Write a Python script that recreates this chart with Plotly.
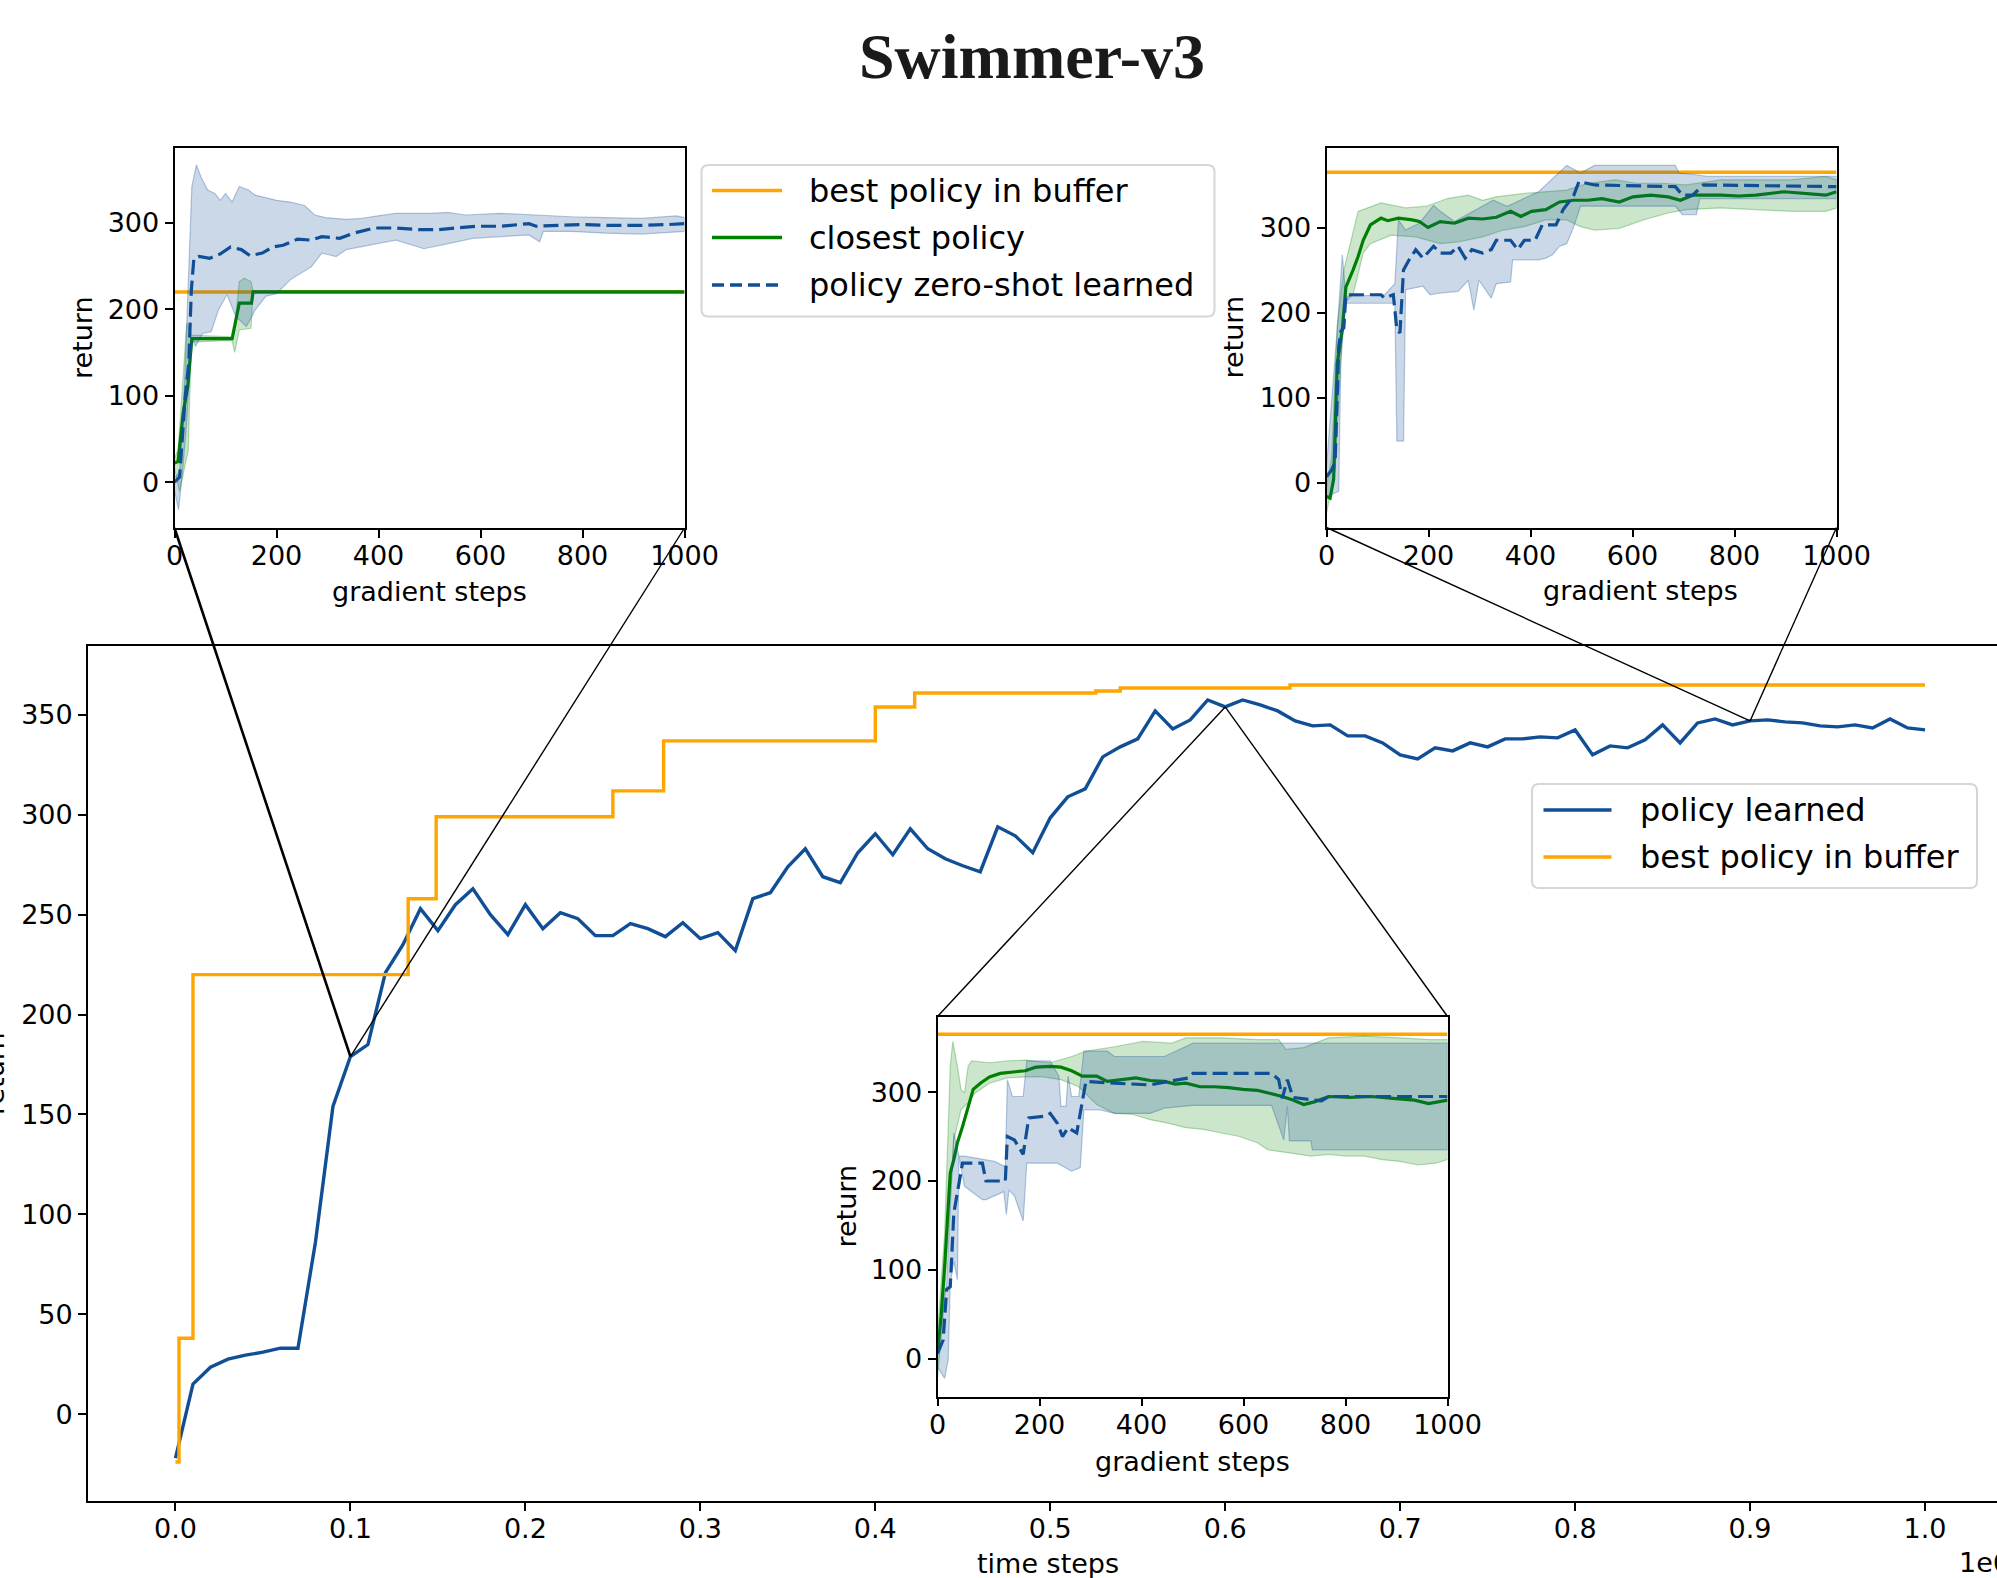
import plotly.graph_objects as go

W, H = 1997, 1578
FONT = "DejaVu Sans"
BLUE = "rgb(16,78,150)"
BLUE_FILL = "rgba(16,78,150,0.22)"
BLUE_EDGE = "rgba(16,78,150,0.30)"
GREEN = "rgb(0,128,0)"
GREEN_FILL = "rgba(0,128,0,0.20)"
GREEN_EDGE = "rgba(0,128,0,0.28)"
ORANGE = "rgb(255,165,0)"

# ---------------- main run (time steps in units of 1e6) ----------------
TIME_STEPS = [0.00, 0.01, 0.02, 0.03, 0.04, 0.05, 0.06, 0.07, 0.08, 0.09,
              0.10, 0.11, 0.12, 0.13, 0.14, 0.15, 0.16, 0.17, 0.18, 0.19,
              0.20, 0.21, 0.22, 0.23, 0.24, 0.25, 0.26, 0.27, 0.28, 0.29,
              0.30, 0.31, 0.32, 0.33, 0.34, 0.35, 0.36, 0.37, 0.38, 0.39,
              0.40, 0.41, 0.42, 0.43, 0.44, 0.45, 0.46, 0.47, 0.48, 0.49,
              0.50, 0.51, 0.52, 0.53, 0.54, 0.55, 0.56, 0.57, 0.58, 0.59,
              0.60, 0.61, 0.62, 0.63, 0.64, 0.65, 0.66, 0.67, 0.68, 0.69,
              0.70, 0.71, 0.72, 0.73, 0.74, 0.75, 0.76, 0.77, 0.78, 0.79,
              0.80, 0.81, 0.82, 0.83, 0.84, 0.85, 0.86, 0.87, 0.88, 0.89,
              0.90, 0.91, 0.92, 0.93, 0.94, 0.95, 0.96, 0.97, 0.98, 0.99,
              1.00]
POLICY_LEARNED = [-22, 15, 23.5, 27.5, 29.5, 31, 33, 33, 86, 154,
                  179, 185, 221, 235, 253, 242, 255, 263, 250, 240,
                  255, 243, 251, 248, 239.5, 239.5, 245.5, 243, 239, 246,
                  238, 241, 232, 258, 261, 274, 283, 269, 266, 281,
                  290.5, 280, 293, 283, 278, 274.5, 271.5, 294, 289.5, 281,
                  298.5, 309, 313, 329, 334, 338, 352, 343, 347.5, 357.5,
                  354, 357.5, 355, 352, 347, 344.5, 345, 339.5, 339.5, 336,
                  330, 328, 333.5, 332, 336, 334, 338, 338, 339, 338.5,
                  342.5, 330, 334.5, 333.5, 337.5, 345, 336, 346, 348, 345,
                  347, 347.5, 346.5, 346, 344.5, 344, 345, 343.5, 348, 343.5,
                  342.5]
BEST_BUFFER_T = [0.0, 0.002, 0.010, 0.133, 0.149, 0.250, 0.279, 0.400, 0.4225, 0.526, 0.540, 0.637, 1.0]
BEST_BUFFER_V = [-24, 38, 220, 258, 299, 312, 337, 354, 361, 362, 363.5, 365, 365]
ZOOM_INDEX = {"left": 10, "mid": 60, "right": 90}

# ---------------- inset at 0.1e6 ----------------
TL_BEST = 220
TL_GREEN_X = [0, 7, 17, 26, 34, 113, 127, 151, 154, 1000]
TL_GREEN_Y = [22, 24, 80, 111, 166, 166, 207, 207, 220, 220]
TL_GREEN_UP_X = [0, 7, 24, 33, 113, 120, 127, 137, 150, 154, 1000]
TL_GREEN_UP_Y = [28, 37, 184, 170, 168, 190, 232, 236, 232, 221, 221]
TL_GREEN_LO_X = [0, 10, 27, 33, 113, 118, 127, 150, 154, 1000]
TL_GREEN_LO_Y = [16, -11, 37, 162, 164, 150, 176, 178, 219, 219]
TL_BLUE_X = [0, 10, 21, 28, 33, 38, 48, 69, 90, 110, 131, 148, 172, 193, 213, 241, 268, 289, 324, 351,
             392, 434, 482, 516, 551, 592, 640, 695, 709, 743, 798, 846, 915, 970, 1000]
TL_BLUE_Y = [0, 6, 99, 138, 222, 259, 261, 259, 264, 272, 269, 262, 265, 272, 274, 281, 280, 284, 282, 288,
             294, 294, 292, 292, 294, 296, 296, 299, 296, 297, 298, 297, 297, 298, 299]
TL_BLUE_UP_X = [0, 10, 20, 28, 34, 43, 52, 65, 79, 90, 100, 113, 127, 145, 158, 172, 200, 227, 255, 275,
                296, 337, 365, 399, 434, 502, 537, 571, 640, 709, 778, 846, 915, 984, 1000]
TL_BLUE_UP_Y = [5, 12, 120, 260, 342, 367, 353, 338, 334, 326, 334, 324, 342, 338, 332, 330, 326, 324, 320, 309,
                306, 304, 305, 308, 311, 311, 312, 309, 311, 309, 307, 306, 305, 308, 306]
TL_BLUE_LO_X = [0, 8, 17, 24, 30, 36, 41, 55, 72, 86, 103, 120, 141, 158, 179, 200, 227, 248, 268, 289,
                317, 337, 378, 434, 489, 537, 585, 640, 695, 716, 723, 778, 846, 915, 1000]
TL_BLUE_LO_Y = [-10, -32, 20, 70, 130, 165, 157, 172, 174, 199, 217, 192, 180, 199, 215, 218, 234, 242, 249, 265,
                261, 269, 274, 280, 270, 276, 282, 284, 286, 278, 290, 290, 288, 287, 290]

# ---------------- inset at 0.9e6 ----------------
TR_BEST = 365
TR_GREEN_X = [0, 7, 14, 21, 31, 38, 52, 62, 72, 86, 107, 120, 141, 168, 182, 199, 223, 251, 278, 306,
              333, 361, 381, 402, 430, 457, 485, 512, 540, 574, 601, 636, 670, 694, 718, 773, 808, 842, 897, 938,
              979, 1000]
TR_GREEN_Y = [-16, -18, 4, 140, 180, 230, 250, 266, 285, 303, 311, 308, 311, 309, 307, 300, 307, 305, 311, 310,
              312, 319, 313, 319, 321, 330, 332, 332, 334, 330, 336, 338, 336, 332, 338, 338, 337, 338, 342, 340,
              338, 342]
TR_GREEN_UP_X = [0, 10, 21, 34, 62, 107, 155, 196, 237, 278, 306, 333, 388, 430, 471, 512, 567, 608, 656, 705,
                 773, 842, 911, 979, 1000]
TR_GREEN_UP_Y = [-5, 30, 184, 250, 319, 329, 323, 325, 334, 338, 332, 336, 340, 342, 344, 352, 356, 352, 352, 350,
                 356, 356, 356, 360, 356]
TR_GREEN_LO_X = [0, 17, 24, 34, 52, 72, 86, 127, 175, 223, 258, 306, 347, 388, 430, 471, 498, 526, 574, 622,
                 670, 705, 773, 842, 911, 979, 1000]
TR_GREEN_LO_Y = [-36, 15, 101, 211, 221, 270, 281, 291, 289, 281, 283, 289, 297, 301, 309, 309, 301, 297, 299, 309,
                 317, 321, 323, 321, 319, 319, 323]
TR_BLUE_X = [0, 10, 17, 24, 28, 34, 38, 107, 114, 131, 138, 144, 151, 162, 175, 189, 210, 223, 244, 258,
             272, 285, 306, 323, 333, 361, 375, 388, 409, 423, 450, 464, 485, 495, 526, 684, 698, 718, 739, 1000]
TR_BLUE_Y = [7, 15, 25, 160, 178, 182, 221, 221, 217, 221, 180, 176, 250, 262, 274, 264, 278, 270, 270, 278,
             264, 274, 270, 274, 285, 285, 274, 285, 285, 303, 303, 321, 338, 354, 350, 348, 338, 338, 350, 348]
TR_BLUE_UP_X = [0, 21, 31, 38, 114, 134, 141, 155, 182, 210, 223, 251, 327, 354, 416, 454, 471, 498, 526, 684,
                691, 725, 746, 1000]
TR_BLUE_UP_Y = [19, 180, 268, 219, 221, 234, 309, 297, 305, 326, 319, 307, 332, 325, 342, 364, 373, 364, 373, 373,
                364, 362, 360, 360]
TR_BLUE_LO_X = [0, 24, 28, 34, 38, 114, 134, 138, 151, 155, 189, 203, 223, 258, 278, 289, 299, 323, 333, 361,
                365, 416, 430, 443, 457, 471, 485, 498, 533, 684, 698, 725, 732, 1000]
TR_BLUE_LO_Y = [-16, -10, 141, 188, 211, 211, 211, 49, 49, 227, 231, 221, 223, 225, 238, 203, 238, 217, 234, 236,
                262, 262, 264, 268, 278, 281, 301, 325, 325, 325, 315, 315, 334, 334]

# ---------------- inset at 0.6e6 ----------------
B_BEST = 365
B_GREEN_X = [0, 7, 14, 21, 25, 32, 39, 49, 60, 70, 84, 102, 123, 151, 172, 193, 221, 242, 263, 284,
             312, 333, 361, 389, 417, 445, 466, 487, 515, 543, 571, 599, 627, 655, 676, 697, 718, 739, 767, 809,
             851, 893, 935, 963, 1000]
B_GREEN_Y = [6, 48, 104, 179, 209, 224, 243, 261, 284, 303, 310, 317, 321, 323, 324, 328, 329, 328, 324, 318,
             318, 312, 314, 316, 313, 312, 309, 310, 306, 306, 305, 303, 302, 298, 295, 291, 286, 289, 295, 294,
             295, 293, 291, 287, 291]
B_GREEN_UP_X = [0, 14, 25, 30, 39, 46, 53, 60, 67, 102, 137, 172, 221, 263, 291, 347, 403, 459, 487, 557,
                627, 669, 683, 718, 767, 837, 907, 963, 1000]
B_GREEN_UP_Y = [29, 141, 329, 357, 329, 303, 299, 329, 335, 333, 335, 336, 333, 340, 346, 351, 357, 355, 361, 361,
                359, 359, 348, 350, 361, 363, 361, 359, 359]
B_GREEN_LO_X = [0, 10, 21, 32, 46, 60, 74, 102, 137, 172, 207, 242, 277, 312, 347, 382, 417, 452, 487, 522,
                557, 592, 627, 648, 676, 697, 732, 767, 802, 837, 872, 907, 942, 977, 1000]
B_GREEN_LO_Y = [-20, 40, 141, 246, 280, 288, 299, 310, 316, 317, 317, 314, 306, 286, 276, 275, 269, 265, 260, 258,
                254, 250, 243, 235, 233, 231, 228, 230, 228, 228, 224, 222, 218, 220, 224]
B_BLUE_X = [0, 11, 18, 25, 32, 42, 49, 88, 95, 133, 137, 151, 168, 179, 214, 221, 235, 245, 256, 273,
            291, 347, 417, 452, 494, 501, 655, 669, 676, 686, 697, 753, 767, 1000]
B_BLUE_Y = [6, 21, 78, 81, 164, 198, 220, 220, 200, 200, 250, 246, 230, 271, 273, 276, 265, 250, 260, 254,
            312, 310, 308, 312, 316, 321, 321, 314, 293, 314, 294, 290, 295, 295]
B_BLUE_UP_X = [0, 18, 32, 42, 53, 88, 112, 133, 137, 147, 168, 175, 221, 238, 242, 252, 256, 263, 277, 287,
               333, 347, 445, 501, 1000]
B_BLUE_UP_Y = [14, 85, 254, 228, 228, 224, 222, 216, 314, 295, 295, 335, 335, 318, 284, 284, 318, 295, 295, 346,
               346, 340, 340, 355, 355]
B_BLUE_LO_X = [0, 14, 21, 25, 32, 39, 42, 53, 88, 95, 109, 130, 135, 140, 151, 168, 175, 207, 235, 263,
               280, 287, 319, 347, 417, 445, 501, 655, 679, 686, 690, 732, 735, 1000]
B_BLUE_LO_Y = [-9, -22, -1, 85, 110, 89, 228, 194, 179, 179, 183, 188, 162, 190, 183, 155, 220, 220, 220, 211,
               215, 280, 280, 276, 276, 282, 285, 285, 246, 284, 245, 245, 235, 235]

GRAD_TICKS = [0, 200, 400, 600, 800, 1000]
RETURN_TICKS_INSET = [0, 100, 200, 300]
RETURN_TICKS_MAIN = [0, 50, 100, 150, 200, 250, 300, 350]
TIME_TICKS = [0.0, 0.1, 0.2, 0.3, 0.4, 0.5, 0.6, 0.7, 0.8, 0.9, 1.0]


# ---------------- layout geometry (pixels) ----------------
def fx(px):
    return px / W


def fy(py):
    return 1 - py / H


MAIN_BOX = (88, 646, 1997, 1501)          # left, top, right, bottom (right edge clipped by page)
MAIN_FULL_RIGHT = 2012.5                  # where x = 1.05 would fall
X_LO, X_HI_FULL = -0.05, 1.05
X_HI = X_LO + (X_HI_FULL - X_LO) * (MAIN_BOX[2] - MAIN_BOX[0]) / (MAIN_FULL_RIGHT - MAIN_BOX[0])
Y_RANGE_MAIN = [-43.5, 384.5]

# box, y range, axis suffix, x-label centre, y-label centre (pixels)
INSETS = {
    "left": dict(box=(174.5, 148, 684.5, 528), yr=[-53, 386.5], ax="2", xlab=(429.5, 592), ylab=(83, 338)),
    "right": dict(box=(1326.5, 147.5, 1836.5, 527.5), yr=[-52.5, 394], ax="3", xlab=(1640, 591), ylab=(1233, 337.5)),
    "mid": dict(box=(937.5, 1016.5, 1447.5, 1396.5), yr=[-42.4, 385], ax="4", xlab=(1192.5, 1461), ylab=(846, 1206.5)),
}

TICK_FONT = dict(family=FONT, size=27, color="black")
LABEL_FONT = dict(family=FONT, size=27, color="black")
LEG_FONT = dict(family=FONT, size=32, color="black")

fig = go.Figure()

# main curves
fig.add_trace(go.Scatter(x=TIME_STEPS, y=POLICY_LEARNED, mode="lines",
                         line=dict(color=BLUE, width=3.4), name="policy learned",
                         xaxis="x", yaxis="y"))
fig.add_trace(go.Scatter(x=BEST_BUFFER_T, y=BEST_BUFFER_V, mode="lines",
                         line=dict(color=ORANGE, width=3.4, shape="hv"), name="best policy in buffer",
                         xaxis="x", yaxis="y"))


def band(xu, yu, xl, yl, fill, edge, ax):
    return go.Scatter(x=list(xu) + list(xl)[::-1], y=list(yu) + list(yl)[::-1],
                      fill="toself", fillcolor=fill, mode="lines",
                      line=dict(color=edge, width=1.2), hoverinfo="skip",
                      xaxis="x" + ax, yaxis="y" + ax)


inset_data = {
    "left": (TL_BEST, TL_GREEN_X, TL_GREEN_Y, TL_GREEN_UP_X, TL_GREEN_UP_Y, TL_GREEN_LO_X, TL_GREEN_LO_Y,
             TL_BLUE_X, TL_BLUE_Y, TL_BLUE_UP_X, TL_BLUE_UP_Y, TL_BLUE_LO_X, TL_BLUE_LO_Y),
    "right": (TR_BEST, TR_GREEN_X, TR_GREEN_Y, TR_GREEN_UP_X, TR_GREEN_UP_Y, TR_GREEN_LO_X, TR_GREEN_LO_Y,
              TR_BLUE_X, TR_BLUE_Y, TR_BLUE_UP_X, TR_BLUE_UP_Y, TR_BLUE_LO_X, TR_BLUE_LO_Y),
    "mid": (B_BEST, B_GREEN_X, B_GREEN_Y, B_GREEN_UP_X, B_GREEN_UP_Y, B_GREEN_LO_X, B_GREEN_LO_Y,
            B_BLUE_X, B_BLUE_Y, B_BLUE_UP_X, B_BLUE_UP_Y, B_BLUE_LO_X, B_BLUE_LO_Y),
}

for key, d in inset_data.items():
    ax = INSETS[key]["ax"]
    best, gx, gy, gux, guy, glx, gly, bx, by, bux, buy, blx, bly = d
    fig.add_trace(go.Scatter(x=[GRAD_TICKS[0], GRAD_TICKS[-1]], y=[best, best], mode="lines",
                             line=dict(color=ORANGE, width=3.4), xaxis="x" + ax, yaxis="y" + ax))
    fig.add_trace(band(gux, guy, glx, gly, GREEN_FILL, GREEN_EDGE, ax))
    fig.add_trace(go.Scatter(x=gx, y=gy, mode="lines", line=dict(color=GREEN, width=3.2),
                             xaxis="x" + ax, yaxis="y" + ax))
    fig.add_trace(band(bux, buy, blx, bly, BLUE_FILL, BLUE_EDGE, ax))
    fig.add_trace(go.Scatter(x=bx, y=by, mode="lines", line=dict(color=BLUE, width=3.2, dash="15px,6px"),
                             xaxis="x" + ax, yaxis="y" + ax))

axis_common = dict(showline=True, linecolor="black", linewidth=1.8, ticks="outside", ticklen=8,
                   tickwidth=1.8, tickcolor="black", showgrid=False, zeroline=False,
                   tickfont=TICK_FONT, automargin=False)

layout = dict(
    width=W, height=H, margin=dict(l=0, r=0, t=0, b=0),
    paper_bgcolor="white", plot_bgcolor="white", showlegend=False,
    title=dict(text="<b>Swimmer-v3</b>", x=fx(1032), xref="container", xanchor="center",
               y=1 - 56 / H, yref="container", yanchor="middle",
               font=dict(family="Liberation Serif", size=64, color="#1a1a1a")),
    xaxis=dict(axis_common, domain=[fx(MAIN_BOX[0]), fx(MAIN_BOX[2])], range=[X_LO, X_HI],
               tickvals=TIME_TICKS, tickformat=".1f", mirror=True, anchor="y",
               ticklabelstandoff=-5),
    yaxis=dict(axis_common, domain=[fy(MAIN_BOX[3]), fy(MAIN_BOX[1])], range=Y_RANGE_MAIN,
               tickvals=RETURN_TICKS_MAIN, anchor="x", ticklabelstandoff=0),
)

annotations = []


def axis_label(text, cx, cy, angle=0, xanchor="center"):
    annotations.append(dict(text=text, x=fx(cx), y=fy(cy), xref="paper", yref="paper",
                            xanchor=xanchor, yanchor="middle", textangle=angle,
                            showarrow=False, font=LABEL_FONT))


for key, ins in INSETS.items():
    x0, y0, x1, y1 = ins["box"]
    ax = ins["ax"]
    layout["xaxis" + ax] = dict(axis_common, domain=[fx(x0), fx(x1)], range=[0, 1000],
                                tickvals=GRAD_TICKS, mirror=True, anchor="y" + ax,
                                ticklabelstandoff=-5)
    layout["yaxis" + ax] = dict(axis_common, domain=[fy(y1), fy(y0)], range=ins["yr"],
                                tickvals=RETURN_TICKS_INSET, mirror=True, anchor="x" + ax,
                                ticklabelstandoff=0)
    axis_label("gradient steps", *ins["xlab"])
    axis_label("return", *ins["ylab"], angle=-90)

axis_label("time steps", 1048, 1563)
axis_label("return", 12, (MAIN_BOX[1] + MAIN_BOX[3]) / 2, angle=-90, xanchor="right")

fig.update_layout(**layout)


# connectors from each inset to the point of the run it zooms into
def main_to_paper(t, v):
    px = MAIN_BOX[0] + (t - X_LO) / (X_HI - X_LO) * (MAIN_BOX[2] - MAIN_BOX[0])
    py = MAIN_BOX[3] - (v - Y_RANGE_MAIN[0]) / (Y_RANGE_MAIN[1] - Y_RANGE_MAIN[0]) * (MAIN_BOX[3] - MAIN_BOX[1])
    return fx(px), fy(py)


shapes = []
for key, ins in INSETS.items():
    i = ZOOM_INDEX[key]
    ax_, ay_ = main_to_paper(TIME_STEPS[i], POLICY_LEARNED[i])
    x0, y0, x1, y1 = ins["box"]
    corner_y = y0 if key == "mid" else y1
    for cx, wdt in ((x0, 2.6 if key == "left" else 1.4), (x1, 1.4)):
        shapes.append(dict(type="line", xref="paper", yref="paper", x0=fx(cx), y0=fy(corner_y),
                           x1=ax_, y1=ay_, line=dict(color="black", width=wdt), layer="above"))


def rounded_box(x0, y0, x1, y1, r=7):
    rx, ry = r / W, r / H
    X0, X1, Y0, Y1 = fx(x0), fx(x1), fy(y1), fy(y0)
    return (f"M {X0 + rx},{Y0} L {X1 - rx},{Y0} Q {X1},{Y0} {X1},{Y0 + ry} "
            f"L {X1},{Y1 - ry} Q {X1},{Y1} {X1 - rx},{Y1} L {X0 + rx},{Y1} "
            f"Q {X0},{Y1} {X0},{Y1 - ry} L {X0},{Y0 + ry} Q {X0},{Y0} {X0 + rx},{Y0} Z")


def add_legend(box, line_x, text_x, rows):
    shapes.append(dict(type="path", xref="paper", yref="paper", path=rounded_box(*box),
                       fillcolor="rgba(255,255,255,0.85)", line=dict(color="#d6d6d6", width=2),
                       layer="above"))
    for (ry, label, color, dash) in rows:
        shapes.append(dict(type="line", xref="paper", yref="paper", x0=fx(line_x[0]), x1=fx(line_x[1]),
                           y0=fy(ry), y1=fy(ry), line=dict(color=color, width=3.4, dash=dash),
                           layer="above"))
        annotations.append(dict(text=label, x=fx(text_x), y=fy(ry), xref="paper", yref="paper",
                                xanchor="left", yanchor="middle", showarrow=False, font=LEG_FONT))


add_legend((701.5, 165, 1214.5, 316.5), (712, 782), 806.5,
           [(190.5, "best policy in buffer", ORANGE, "solid"),
            (237.5, "closest policy", GREEN, "solid"),
            (285, "policy zero-shot learned", BLUE, "12px,6px")])
add_legend((1532, 784, 1977, 888), (1543.5, 1611.5), 1637.5,
           [(810, "policy learned", BLUE, "solid"),
            (857, "best policy in buffer", ORANGE, "solid")])

annotations.append(dict(text="1e6", x=fx(1957), y=fy(1562), xref="paper", yref="paper",
                        xanchor="left", yanchor="middle", showarrow=False, font=TICK_FONT))

fig.update_layout(shapes=shapes, annotations=annotations)
fig.write_html("out.html")
